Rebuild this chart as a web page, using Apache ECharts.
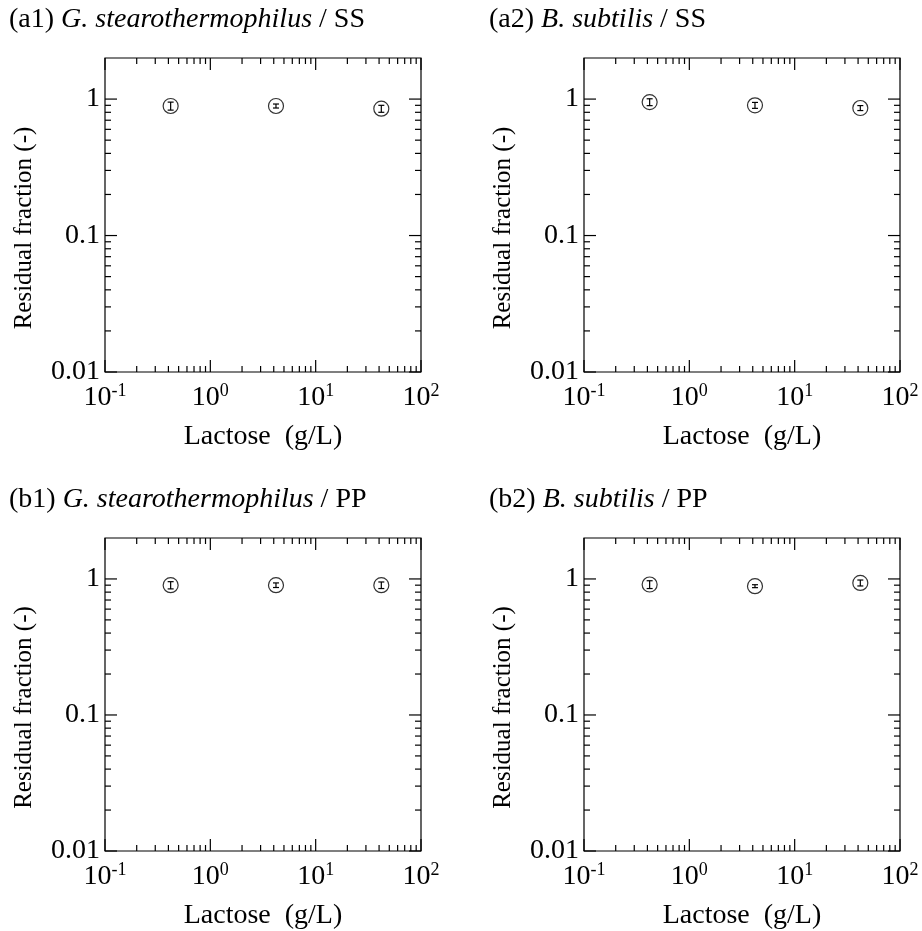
<!DOCTYPE html>
<html>
<head>
<meta charset="utf-8">
<script src="https://cdn.jsdelivr.net/npm/echarts@6/dist/echarts.min.js"></script>
<style>
html,body{margin:0;padding:0;background:#fff;}
#c{width:922px;height:931px;}
</style>
</head>
<body>
<div id="c"></div>
<script>
// ---- data ----
var lactose = [0.42, 4.2, 42];
var a1Values = [0.89, 0.89, 0.85];
var a1Errors = [0.06, 0.03, 0.05];
var a2Values = [0.95, 0.90, 0.86];
var a2Errors = [0.055, 0.045, 0.036];
var b1Values = [0.90, 0.90, 0.90];
var b1Errors = [0.055, 0.035, 0.05];
var b2Values = [0.91, 0.885, 0.935];
var b2Errors = [0.06, 0.022, 0.047];

var panelTags = ['(a1) ', '(a2) ', '(b1) ', '(b2) '];
var panelSpecies = ['G. stearothermophilus', 'B. subtilis', 'G. stearothermophilus', 'B. subtilis'];
var panelSurface = [' / SS', ' / SS', ' / PP', ' / PP'];

var xTickValues = [0.1, 1, 10, 100];
var xTickExponents = ['-1', '0', '1', '2'];
var yTickValues = [0.01, 0.1, 1];
var yTickLabels = ['0.01', '0.1', '1'];
var minorMultipliers = [2, 3, 4, 5, 6, 7, 8, 9];

var xName = 'Lactose  (g/L)';
var yName = 'Residual fraction (-)';

// ---- layout ----
var FONT = 'Liberation Serif';
var grids = [
  {left: 105, top: 58, width: 316, height: 314, tl: 9, tt: 6},
  {left: 584, top: 58, width: 316, height: 314, tl: 489, tt: 6},
  {left: 105, top: 538, width: 316, height: 314, tl: 9, tt: 486},
  {left: 584, top: 538, width: 316, height: 314, tl: 489, tt: 486}
];
var values = [a1Values, a2Values, b1Values, b2Values];
var errors = [a1Errors, a2Errors, b1Errors, b2Errors];

function expOf(v) { return Math.round(Math.log(v) / Math.LN10); }

var xMinor = [], yMinor = [];
xTickValues.slice(0, -1).forEach(function (d) { minorMultipliers.forEach(function (m) { xMinor.push(d * m); }); });
yTickValues.forEach(function (d) { minorMultipliers.forEach(function (m) { if (d * m < 2) yMinor.push(d * m); }); });

function tickRender(params, api) {
  var cs = params.coordSys;
  var x0 = cs.x, x1 = cs.x + cs.width, y0 = cs.y, y1 = cs.y + cs.height;
  var children = [];
  var st = {stroke: '#000', lineWidth: 1.2};
  var MAJ = 12, MIN = 6;
  function vline(v, len) {
    var p = api.coord([v, 0.5]);
    children.push({type: 'line', shape: {x1: p[0], y1: y1, x2: p[0], y2: y1 - len}, style: st});
    children.push({type: 'line', shape: {x1: p[0], y1: y0, x2: p[0], y2: y0 + len}, style: st});
  }
  function hline(v, len) {
    var p = api.coord([1, v]);
    children.push({type: 'line', shape: {x1: x0, y1: p[1], x2: x0 + len, y2: p[1]}, style: st});
    children.push({type: 'line', shape: {x1: x1, y1: p[1], x2: x1 - len, y2: p[1]}, style: st});
  }
  xTickValues.forEach(function (v) { vline(v, MAJ); });
  xMinor.forEach(function (v) { vline(v, MIN); });
  yTickValues.forEach(function (v) { hline(v, MAJ); });
  yMinor.forEach(function (v) { hline(v, MIN); });
  return {type: 'group', children: children};
}

function errRender(params, api) {
  var x = api.value(0), y = api.value(1), e = api.value(2);
  var top = api.coord([x, y + e]);
  var bot = api.coord([x, y - e]);
  var st = {stroke: '#000', lineWidth: 1.2};
  var w = 3;
  return {type: 'group', children: [
    {type: 'line', shape: {x1: top[0], y1: top[1], x2: bot[0], y2: bot[1]}, style: st},
    {type: 'line', shape: {x1: top[0] - w, y1: top[1], x2: top[0] + w, y2: top[1]}, style: st},
    {type: 'line', shape: {x1: bot[0] - w, y1: bot[1], x2: bot[0] + w, y2: bot[1]}, style: st}
  ]};
}

var option = {
  animation: false,
  backgroundColor: '#fff',
  textStyle: {fontFamily: FONT, color: '#000'},
  title: [], grid: [], xAxis: [], yAxis: [], series: []
};

grids.forEach(function (g, i) {
  option.grid.push({left: g.left, top: g.top, width: g.width, height: g.height,
    show: true, borderColor: '#000', borderWidth: 1.2, backgroundColor: 'transparent'});
  option.title.push({
    left: g.tl, top: g.tt, padding: 0,
    text: '{n|' + panelTags[i] + '}{i|' + panelSpecies[i] + '}{n|' + panelSurface[i] + '}',
    textStyle: {fontWeight: 'normal', fontFamily: FONT, fontSize: 28, rich: {
      n: {fontFamily: FONT, fontSize: 28, fontWeight: 'normal', color: '#000'},
      i: {fontFamily: FONT, fontSize: 28, fontWeight: 'normal', fontStyle: 'italic', color: '#000'}
    }}
  });
  option.xAxis.push({
    type: 'log', logBase: 10, gridIndex: i, min: 0.1, max: 100,
    axisLine: {show: false}, axisTick: {show: false}, splitLine: {show: false},
    name: xName, nameLocation: 'middle', nameGap: 51, nameMoveOverlap: false,
    nameTextStyle: {fontFamily: FONT, fontSize: 28, color: '#000'},
    axisLabel: {
      margin: 10,
      formatter: function (v) {
        var k = xTickValues.indexOf(Math.pow(10, expOf(v)));
        if (Math.abs(Math.log(v) / Math.LN10 - expOf(v)) > 1e-6 || k < 0) return '';
        return '{b|10}{s|' + xTickExponents[k] + '}';
      },
      rich: {
        b: {fontFamily: FONT, fontSize: 28, color: '#000', verticalAlign: 'bottom'},
        s: {fontFamily: FONT, fontSize: 18, color: '#000', verticalAlign: 'top', padding: [0, 0, 12, 0]}
      }
    }
  });
  option.yAxis.push({
    type: 'log', logBase: 10, gridIndex: i, min: 0.01, max: 2,
    axisLine: {show: false}, axisTick: {show: false}, splitLine: {show: false},
    name: yName, nameLocation: 'middle', nameGap: 68, nameMoveOverlap: false,
    nameTextStyle: {fontFamily: FONT, fontSize: 25, color: '#000', padding: [0, 26, 0, 0]},
    axisLabel: {
      margin: 5, fontFamily: FONT, fontSize: 28, color: '#000',
      formatter: function (v) {
        for (var k = 0; k < yTickValues.length; k++) {
          if (Math.abs(v - yTickValues[k]) / yTickValues[k] < 1e-6) return yTickLabels[k];
        }
        return '';
      }
    }
  });
  option.series.push({
    type: 'custom', xAxisIndex: i, yAxisIndex: i, renderItem: tickRender,
    data: [[1, 0.5]], silent: true, clip: false, z: 1
  });
  option.series.push({
    type: 'scatter', xAxisIndex: i, yAxisIndex: i, symbol: 'circle', symbolSize: 15,
    itemStyle: {color: '#fff', borderColor: '#000', borderWidth: 1.2},
    data: lactose.map(function (x, j) { return [x, values[i][j]]; }), z: 2
  });
  option.series.push({
    type: 'custom', xAxisIndex: i, yAxisIndex: i, renderItem: errRender,
    data: lactose.map(function (x, j) { return [x, values[i][j], errors[i][j]]; }), z: 3
  });
});

var chart = echarts.init(document.getElementById('c'), null, {renderer: 'canvas'});
chart.setOption(option);
</script>
</body>
</html>
